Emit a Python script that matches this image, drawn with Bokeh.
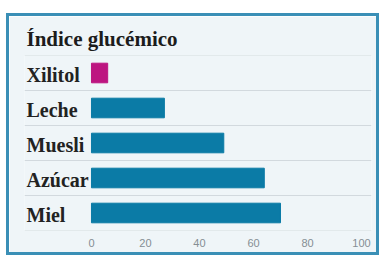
from bokeh.plotting import figure
from bokeh.models import Range1d, FactorRange, FixedTicker
from bokeh.core.properties import value
from bokeh.embed import file_html
from bokeh.resources import INLINE

# data (top to bottom as in the chart)
categories = ["Xilitol", "Leche", "Muesli", "Azúcar", "Miel"]
indice = [6, 27, 49, 64, 70]
bar_colors = ["#bd1580", "#0b7ba6", "#0b7ba6", "#0b7ba6", "#0b7ba6"]
ticks = [0, 20, 40, 60, 80, 100]
title_text = "Índice glucémico"

factors = list(reversed(categories))

p = figure(width=373, height=242, output_backend="svg", toolbar_location=None,
           x_range=Range1d(-24.8, 103.7), y_range=FactorRange(factors=factors, range_padding=0),
           y_axis_location=None, min_border_left=15, min_border_right=11,
           min_border_top=39, min_border_bottom=28)
p.styles = {"border": "3px solid #3a8fb6", "margin-left": "6px", "margin-top": "13px"}

p.background_fill_color = "#eff5f8"
p.border_fill_color = "#eff5f8"
p.outline_line_color = None
p.grid.visible = False

p.title.text = title_text
p.title.text_font = "Liberation Serif"
p.title.text_font_style = "bold"
p.title.text_font_size = "21px"
p.title.text_color = "#1c1c1c"
p.title.offset = 2
p.title.standoff = 10

# separators
bounds = [(c, -0.5) for c in factors] + [(factors[-1], 0.5)]
p.segment(x0=-24.8, x1=103.7, y0=bounds, y1=bounds, line_color="#d2d9de", line_width=1)

p.hbar(y=categories, left=0, right=indice, height=0.56, color=bar_colors)

p.text(x=-24.8, y=categories, text=categories, x_offset=2, y_offset=2,
       text_align="left", text_baseline="middle",
       text_font=value("Liberation Serif"), text_font_style="bold",
       text_font_size="20px", text_color="#222222")

ax = p.xaxis[0]
ax.ticker = FixedTicker(ticks=ticks)
ax.axis_line_color = None
ax.major_tick_line_color = None
ax.minor_tick_line_color = None
ax.major_label_text_color = "#858e94"
ax.major_label_text_font = "Liberation Sans"
ax.major_label_text_font_size = "11px"
ax.major_label_standoff = 2

open("out.html", "w").write(file_html(p, INLINE))
